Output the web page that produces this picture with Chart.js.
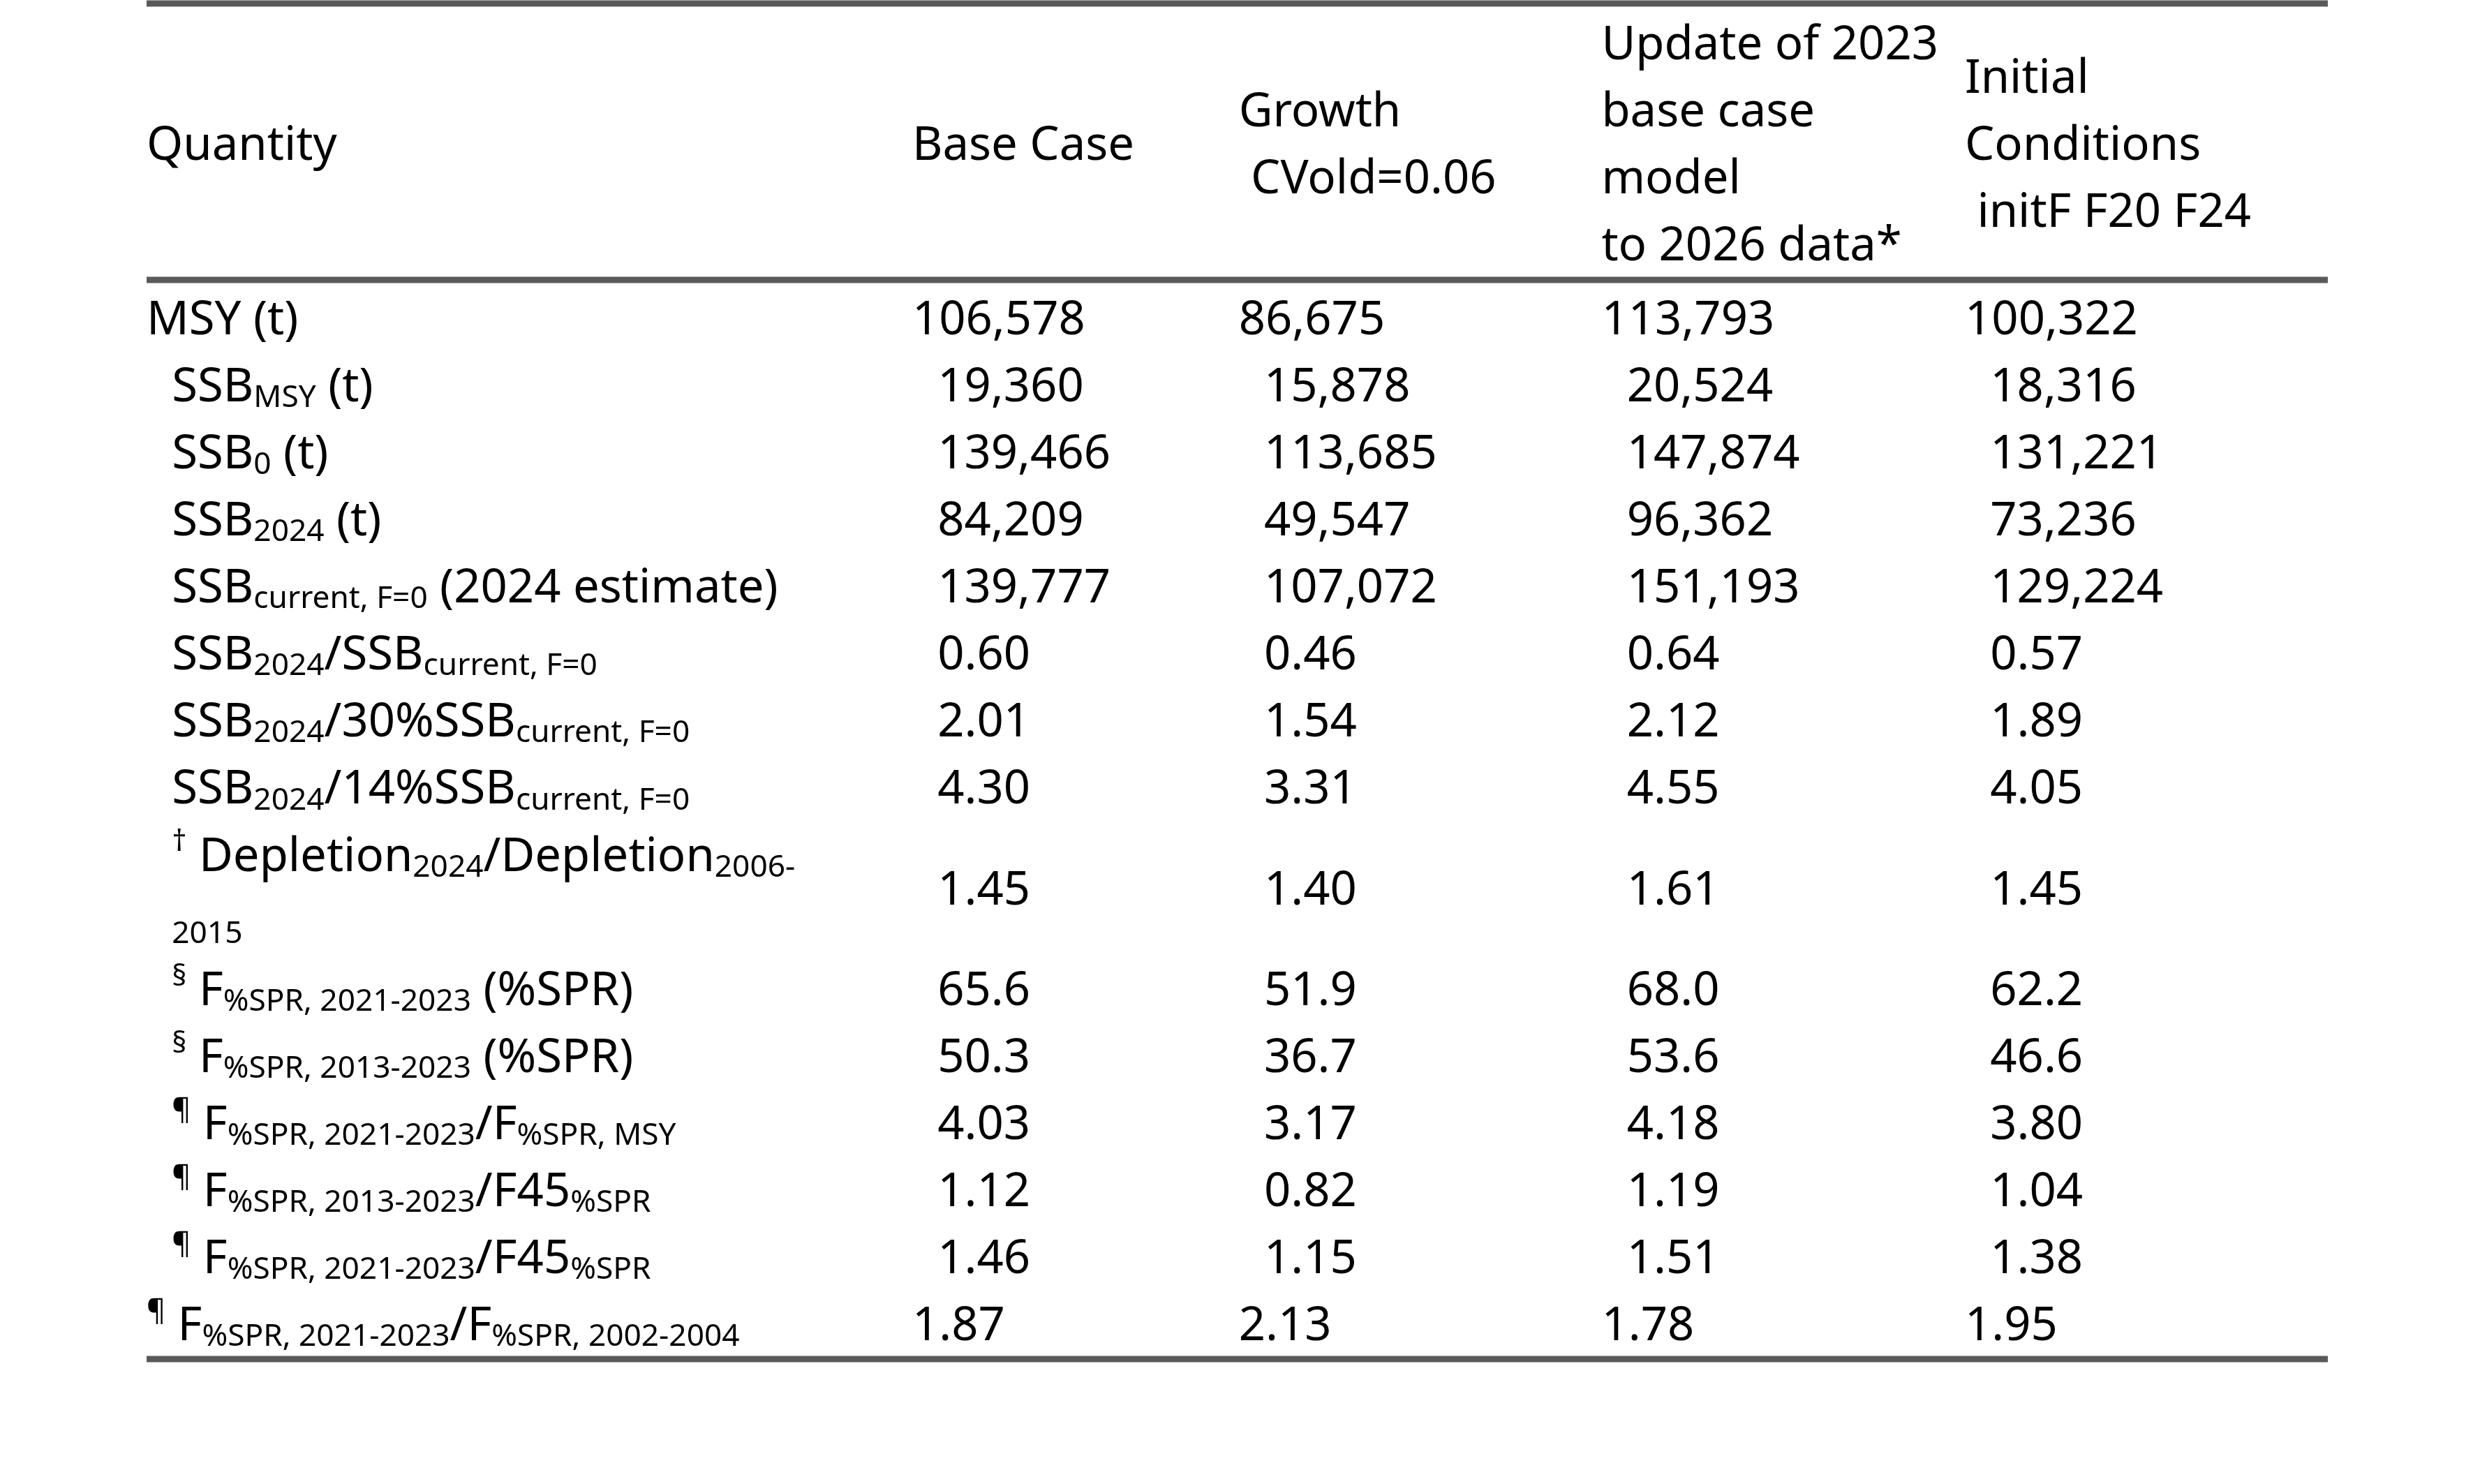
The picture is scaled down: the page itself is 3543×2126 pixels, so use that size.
<!DOCTYPE html>
<html>
<head>
<meta charset="utf-8">
<script src="https://cdn.jsdelivr.net/npm/chart.js@4.4.1/dist/chart.umd.min.js"></script>
<style>
  html, body { margin: 0; padding: 0; background: #fff; }
  #wrap { width: 3543px; height: 2126px; position: relative; }
</style>
</head>
<body>
<div id="wrap"><canvas id="table"></canvas></div>
<script>
// column headers (one entry per line)
const headers = [
    ['Quantity'],
    ['Base Case'],
    ['Growth', ' CVold=0.06'],
    ['Update of 2023', 'base case', 'model', 'to 2026 data*'],
    ['Initial', 'Conditions', ' initF F20 F24']
];
// _{..} is subscript, ^{..} is superscript
const quantities = [
    'MSY (t)',
    'SSB_{MSY} (t)',
    'SSB_{0} (t)',
    'SSB_{2024} (t)',
    'SSB_{current, F=0} (2024 estimate)',
    'SSB_{2024}/SSB_{current, F=0}',
    'SSB_{2024}/30%SSB_{current, F=0}',
    'SSB_{2024}/14%SSB_{current, F=0}',
    '^{†} Depletion_{2024}/Depletion_{2006-}|2015',
    '^{§} F_{%SPR, 2021-2023} (%SPR)',
    '^{§} F_{%SPR, 2013-2023} (%SPR)',
    '^{¶} F_{%SPR, 2021-2023}/F_{%SPR, MSY}',
    '^{¶} F_{%SPR, 2013-2023}/F45_{%SPR}',
    '^{¶} F_{%SPR, 2021-2023}/F45_{%SPR}',
    '^{¶} F_{%SPR, 2021-2023}/F_{%SPR, 2002-2004}'
];
const indented = [false, true, true, true, true, true, true, true, true, true, true, true, true, true, false];
const baseCase = ['106,578', '19,360', '139,466', '84,209', '139,777', '0.60', '2.01', '4.30', '1.45', '65.6', '50.3', '4.03', '1.12', '1.46', '1.87'];
const growth   = ['86,675', '15,878', '113,685', '49,547', '107,072', '0.46', '1.54', '3.31', '1.40', '51.9', '36.7', '3.17', '0.82', '1.15', '2.13'];
const update   = ['113,793', '20,524', '147,874', '96,362', '151,193', '0.64', '2.12', '4.55', '1.61', '68.0', '53.6', '4.18', '1.19', '1.51', '1.78'];
const initial  = ['100,322', '18,316', '131,221', '73,236', '129,224', '0.57', '1.89', '4.05', '1.45', '62.2', '46.6', '3.80', '1.04', '1.38', '1.95'];

const columns = [quantities, baseCase, growth, update, initial];
const colX = [0, 0.351, 0.5007, 0.667, 0.8336];
const INDENT = 0.0116;
const FONT = 'px "Noto Sans", "DejaVu Sans", sans-serif';
const SIZE = 67;

// row slots: the depletion row takes two slots
const rowSlot = [];
let slot = 0;
quantities.forEach(q => {
    const two = q.includes('|');
    rowSlot.push(two ? slot + 0.5 : slot);
    slot += two ? 2 : 1;
});

function parse(str) {
    const out = [];
    const re = /([_^])\{([^}]*)\}|([^_^]+)/g;
    let m;
    while ((m = re.exec(str))) {
        if (m[3]) out.push({ t: m[3], k: 'n' });
        else out.push({ t: m[2], k: m[1] === '_' ? 'sub' : 'sup' });
    }
    return out;
}

function drawRich(ctx, str, x, y) {
    // y is the row centre
    const base = y + SIZE * 0.36;
    parse(str).forEach(p => {
        let sz = SIZE, dy = 0;
        if (p.k === 'sub') { sz = SIZE * 0.66; dy = SIZE * 0.12; }
        if (p.k === 'sup') { sz = SIZE * 0.62; dy = -SIZE * 0.42; }
        ctx.font = sz + FONT;
        ctx.fillText(p.t, x, base + dy);
        x += ctx.measureText(p.t).width;
    });
}

const points = [];
columns.forEach((col, c) => col.forEach((v, r) => points.push({ x: colX[c], y: rowSlot[r] })));

const tablePlugin = {
    id: 'tablePlugin',
    afterDraw(chart) {
        const ctx = chart.ctx, xs = chart.scales.x, ys = chart.scales.y, a = chart.chartArea;
        ctx.save();
        ctx.fillStyle = '#000';
        ctx.textBaseline = 'alphabetic';
        // header
        headers.forEach((lines, c) => {
            lines.forEach((line, i) => {
                const yy = -2.6 + (i - (lines.length - 1) / 2);
                drawRich(ctx, line, xs.getPixelForValue(colX[c]), ys.getPixelForValue(yy));
            });
        });
        // body
        columns.forEach((col, c) => {
            col.forEach((v, r) => {
                const x = xs.getPixelForValue(colX[c] + (indented[r] ? INDENT : 0));
                if (c === 0 && v.includes('|')) {
                    const [l1, l2] = v.split('|');
                    drawRich(ctx, l1, x, ys.getPixelForValue(rowSlot[r] - 0.5));
                    ctx.font = (SIZE * 0.66) + FONT;
                    ctx.fillText(l2, x, ys.getPixelForValue(rowSlot[r] + 0.65) + SIZE * 0.25);
                } else {
                    drawRich(ctx, v, x, ys.getPixelForValue(rowSlot[r]));
                }
            });
        });
        // rules
        ctx.strokeStyle = '#595959';
        ctx.lineWidth = 9;
        [-4.68, -0.56, 15.53].forEach(v => {
            const y = ys.getPixelForValue(v);
            ctx.beginPath();
            ctx.moveTo(a.left, y);
            ctx.lineTo(a.right, y);
            ctx.stroke();
        });
        ctx.restore();
    }
};

new Chart(document.getElementById('table'), {
    type: 'scatter',
    data: { datasets: [{ data: points, pointRadius: 0, pointHoverRadius: 0 }] },
    options: {
        responsive: true,
        maintainAspectRatio: false,
        animation: false,
        events: [],
        layout: { padding: { left: 210, right: 3543 - 3335, top: 5, bottom: 2126 - 1947 } },
        plugins: { legend: { display: false }, tooltip: { enabled: false } },
        scales: {
            x: { type: 'linear', min: 0, max: 1, display: false },
            y: { type: 'linear', min: -4.68, max: 15.53, reverse: true, display: false }
        }
    },
    plugins: [tablePlugin]
});
</script>
</body>
</html>
